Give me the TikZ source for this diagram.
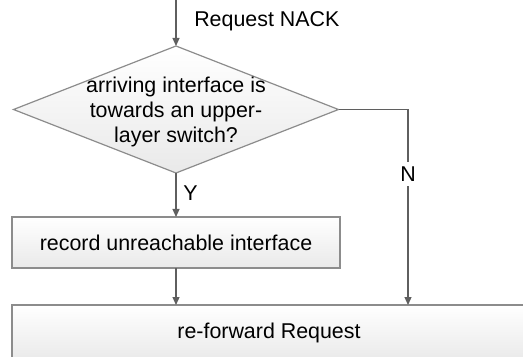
\documentclass[tikz,border=0pt]{standalone}
\usepackage{fontspec}
\setmainfont{Liberation Sans}
\usetikzlibrary{shapes.geometric,arrows.meta}
\definecolor{linegray}{RGB}{140,140,140}
\definecolor{arrowgray}{RGB}{95,95,95}
\definecolor{shade}{RGB}{233,233,233}
\tikzset{%
	decision/.style = {diamond,draw=linegray,line width=0.6pt,top color=white,bottom color=shade,inner sep=0,outer sep=0},
	process/.style = {rectangle,draw=linegray,line width=0.6pt,top color=white,bottom color=shade,inner sep=0,outer sep=0},
	flow/.style = {draw=arrowgray,line width=0.6pt,-{Triangle[length=4pt,width=3.5pt]}}%
}
\begin{document}
\begin{tikzpicture}[x=0.5pt,y=-0.5pt,font=\fontsize{10.7}{12.5}\selectfont]
		\useasboundingbox (0,0) rectangle (523,357);
		
		\coordinate(start) at (176,0);
		\node(q)[decision,minimum width=162.5pt,minimum height=63.5pt,
			label={[align=center,yshift=-1pt]center:{arriving interface is\\towards an upper-\\layer switch?}}] at (176,109.5){};
		\node(rec)[process,minimum width=164pt,minimum height=25.5pt] at (176,242.5){record unreachable interface};
		\node(fwd)[process,minimum width=257pt,minimum height=28pt] at (269,333){re-forward Request};
		\coordinate(n) at (408,0);
		
		\draw[flow](start)--(q.north) node[midway,right,xshift=5.5pt,yshift=1pt]{Request NACK};
		\draw[flow](q.south)--(rec.north) node[midway,right,yshift=1pt]{Y};
		\draw[flow](rec.south)--(rec.south |- fwd.north);
		\draw[flow](q.east)-|(n |- fwd.north) node[pos=0.665,fill=white,inner xsep=1pt,inner ysep=2.5pt]{N};
		\end{tikzpicture}
\end{document}
